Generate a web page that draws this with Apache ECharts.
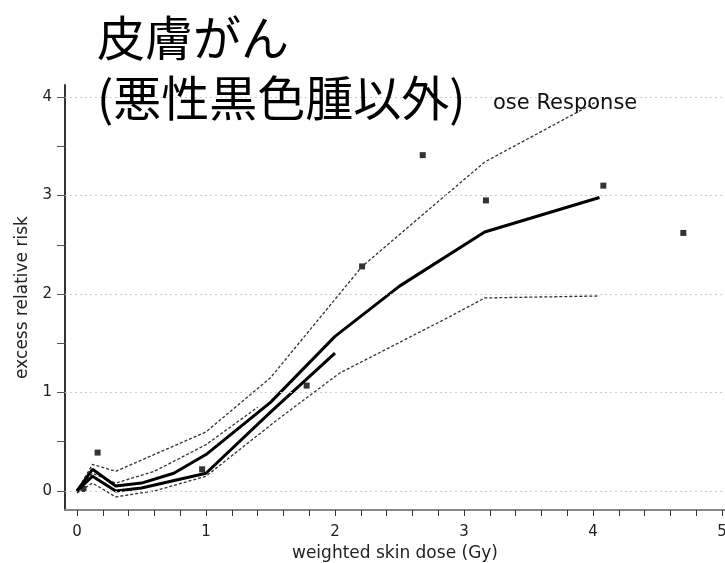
<!DOCTYPE html>
<html><head><meta charset="utf-8">
<script src="https://cdn.jsdelivr.net/npm/echarts@6/dist/echarts.min.js"></script>
<style>html,body{margin:0;padding:0;background:#fff}#c{width:725px;height:563px}</style>
</head><body><div id="c"></div>
<script>
const titleLines = ['皮膚がん', '(悪性黒色腫以外)'];
const subTitle = 'ose Response';
const xName = 'weighted skin dose (Gy)';
const yName = 'excess relative risk';
const xTickLabels = [0, 1, 2, 3, 4, 5];
const xMinorTicks = [0,0.2,0.4,0.6,0.8,1,1.2,1.4,1.6,1.8,2,2.2,2.4,2.6,2.8,3,3.2,3.4,3.6,3.8,4,4.2,4.4,4.6,4.8,5];
const yTickLabels = [0, 1, 2, 3, 4];
const yMinorTicks = [0,0.5,1,1.5,2,2.5,3,3.5,4];

// fitted curve, full dose range (thick)
const fitDose = [0, 0.12, 0.3, 0.5, 0.75, 1.0, 1.5, 2.0, 2.5, 3.16, 4.05];
const fitERR  = [0, 0.22, 0.05, 0.08, 0.18, 0.37, 0.9, 1.57, 2.08, 2.63, 2.98];
// upper bound (dashed)
const upDose = [0, 0.12, 0.3, 0.72, 1.0, 1.5, 2.21, 3.16, 4.04];
const upERR  = [0, 0.27, 0.2, 0.44, 0.6, 1.15, 2.28, 3.34, 3.96];
// lower bound (dashed)
const loDose = [0, 0.12, 0.3, 0.6, 1.0, 1.55, 2.04, 2.89, 3.16, 4.05];
const loERR  = [-0.02, 0.08, -0.06, 0.0, 0.15, 0.72, 1.2, 1.77, 1.96, 1.98];
// fitted curve, 0-2 Gy (thick)
const fit2Dose = [0, 0.12, 0.3, 0.5, 1.0, 1.5, 2.0];
const fit2ERR  = [0, 0.15, 0.0, 0.03, 0.18, 0.8, 1.4];
// upper bound 0-2 Gy (dashed)
const up2Dose = [0, 0.12, 0.3, 0.6, 1.0, 1.4];
const up2ERR  = [0, 0.18, 0.08, 0.2, 0.47, 0.85];
// category estimates
const ptDose = [0.05, 0.16, 0.97, 1.78, 2.21, 2.68, 3.17, 4.08, 4.70];
const ptERR  = [0.02, 0.39, 0.22, 1.07, 2.28, 3.41, 2.95, 3.10, 2.62];

const zip = (a, b) => a.map((v, i) => [v, b[i]]);
const thick = {color: '#000', width: 3};
const dashed = {color: '#333', width: 1.3, type: [3, 2]};

const chart = echarts.init(document.getElementById('c'));
chart.setOption({
  animation: false,
  backgroundColor: '#fff',
  title: [
    {text: titleLines.join('\n'), left: 92, top: 3,
     textStyle: {fontFamily: 'Noto Sans CJK JP', fontSize: 48, fontWeight: 'normal', color: '#000', lineHeight: 60}},
    {text: subTitle, left: 488, top: 88,
     textStyle: {fontFamily: 'DejaVu Sans', fontSize: 21, fontWeight: 'normal', color: '#111'}}
  ],
  grid: {left: 65, top: 85, width: 660, height: 425, containLabel: false, outerBoundsMode: 'none'},
  xAxis: {
    type: 'value', min: -0.093, max: 5.023,
    name: xName, nameLocation: 'middle', nameGap: 33,
    nameTextStyle: {fontFamily: 'DejaVu Sans', fontSize: 17, color: '#222'},
    axisLine: {show: true, onZero: false, lineStyle: {color: '#888', width: 2}},
    axisTick: {show: true, length: 6, lineStyle: {color: '#333'}, customValues: xMinorTicks},
    axisLabel: {customValues: xTickLabels, fontFamily: 'DejaVu Sans', fontSize: 15, color: '#222', margin: 15},
    splitLine: {show: false}
  },
  yAxis: {
    type: 'value', min: -0.193, max: 4.122,
    name: yName, nameLocation: 'middle', nameGap: 31, nameRotate: 90,
    nameTextStyle: {fontFamily: 'DejaVu Sans', fontSize: 17, color: '#222'},
    axisLine: {show: true, onZero: false, lineStyle: {color: '#333', width: 2}},
    axisTick: {show: true, length: 8, lineStyle: {color: '#555'}, customValues: yMinorTicks},
    axisLabel: {customValues: yTickLabels, fontFamily: 'DejaVu Sans', fontSize: 15, color: '#222', margin: 13},
    splitLine: {show: false}
  },
  series: [
    {type: 'line', data: [], silent: true,
     markLine: {silent: true, symbol: 'none', label: {show: false},
       lineStyle: {color: '#ccc', type: [2, 3], width: 1},
       data: yTickLabels.map(v => ({yAxis: v}))}},
    {type: 'line', data: zip(upDose, upERR), showSymbol: false, lineStyle: dashed},
    {type: 'line', data: zip(loDose, loERR), showSymbol: false, lineStyle: dashed},
    {type: 'line', data: zip(up2Dose, up2ERR), showSymbol: false, lineStyle: dashed},
    {type: 'line', data: zip(fitDose, fitERR), showSymbol: false, lineStyle: thick},
    {type: 'line', data: zip(fit2Dose, fit2ERR), showSymbol: false, lineStyle: thick},
    {type: 'scatter', data: zip(ptDose, ptERR), symbol: 'rect', symbolSize: 6, itemStyle: {color: '#000'}}
  ]
});
</script></body></html>
